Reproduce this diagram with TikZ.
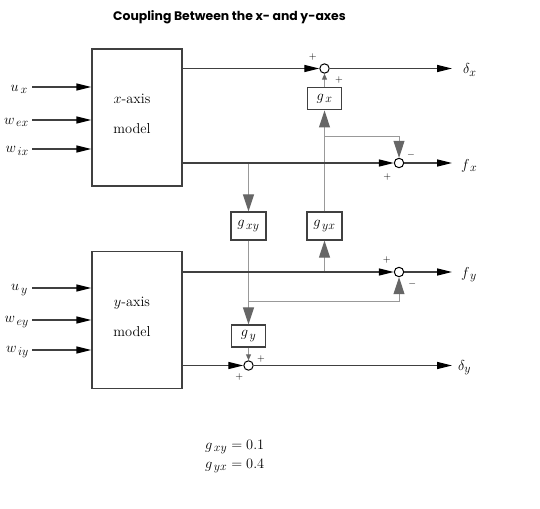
\documentclass[tikz,border=0pt]{standalone}
\usepackage{fontspec}
\newfontfamily\titlefont{Poppins}
\DeclareMathSizes{14.4}{14.4}{12}{10}
\usetikzlibrary{arrows.meta}
\definecolor{dk}{HTML}{404040}
\definecolor{lt}{HTML}{999999}
\definecolor{hd}{HTML}{666666}
\tikzset{
  blk/.style={draw=dk, line width=1.3pt, -{Triangle[length=15pt,width=7pt,color=black]}},
  gry/.style={draw=lt, line width=1pt, -{Triangle[length=17pt,width=11pt,color=hd]}},
  gsmall/.style={draw=lt, line width=1pt, -{Triangle[length=6pt,width=5pt,color=hd]}},
  modelbox/.style={draw=dk, line width=1.3pt, minimum width=90pt, minimum height=137pt, inner sep=0pt},
  gain/.style={draw=dk, line width=1.3pt, minimum width=34pt, minimum height=22pt, inner sep=0pt, font=\fontsize{14.4}{16}\selectfont},
  gainb/.style={gain, minimum width=35pt, minimum height=28pt},
  sumc/.style={circle, draw=black, line width=1pt, minimum size=9.4pt, inner sep=0pt},
  lbl/.style={font=\fontsize{14.4}{16}\selectfont, inner sep=0pt},
  sgn/.style={font=\fontsize{10}{11}\selectfont, inner sep=0pt},
  ttl/.style={font=\titlefont\bfseries\fontsize{12.4}{14}\selectfont, inner sep=0pt},
}
\begin{document}
\begin{tikzpicture}[x=1pt,y=-1pt]
\useasboundingbox (0,0) rectangle (540,508);
\node[ttl] (title) at (229.5,17) {Coupling Between the x- and y-axes};
% model blocks
\node[modelbox] (xbox) at (137,117.5) {};
\node[lbl] (xt1) at (132,99) {$x$-axis};
\node[lbl] (xt2) at (132,129) {model};
\node[modelbox] (ybox) at (137,320) {};
\node[lbl] (yt1) at (132,303) {$y$-axis};
\node[lbl] (yt2) at (132,332) {model};
% gains
\node[gain] (gx) at (324.5,98.8) {$g_{\,x}$};
\node[gainb] (gxy) at (248.5,226) {$g_{\,xy}$};
\node[gainb] (gyx) at (324.5,226) {$g_{\,yx}$};
\node[gain] (gy) at (248.5,336) {$g_{\,y}$};
% sums
\node[sumc] (S1) at (324.5,68.5) {};
\node[sumc] (S2) at (399,163) {};
\node[sumc] (S3) at (399,272) {};
\node[sumc] (S4) at (248.5,365.5) {};
% output coordinates
\coordinate (xo1) at (182,68.5);
\coordinate (xo2) at (182,163);
\coordinate (yo1) at (182,272);
\coordinate (yo2) at (182,365.5);
\coordinate (e1) at (452,68.5);
\coordinate (e2) at (452,163);
\coordinate (e3) at (452,272);
\coordinate (e4) at (452,365.5);
\coordinate (b1) at (248.5,301);
\coordinate (b2) at (324.5,136);
% gray coupling paths
\draw[gry] (gxy |- xo2) -- (gxy.north);
\draw[gry] (gxy.south) -- (gy.north);
\draw[gry] (b1) -| (S3);
\draw[gry] (gyx |- yo1) -- (gyx.south);
\draw[gry] (gyx.north) -- (gx.south);
\draw[gry] (b2) -| (S2);
\draw[gsmall] (gx) -- (S1);
\draw[gsmall] (gy) -- (S4);
% black signal paths
\draw[blk] (xo1) -- (S1);
\draw[blk] (S1) -- (e1);
\draw[blk] (xo2) -- (S2);
\draw[blk] (S2) -- (e2);
\draw[blk] (yo1) -- (S3);
\draw[blk] (S3) -- (e3);
\draw[blk] (yo2) -- (S4);
\draw[blk] (S4) -- (e4);
% output labels
\node[lbl,anchor=west] (Ldx) at (463,70) {$\delta_{x}$};
\node[lbl,anchor=west] (Lfx) at (461,166) {$f_{\,x}$};
\node[lbl,anchor=west] (Lfy) at (461,275) {$f_{\,y}$};
\node[lbl,anchor=west] (Ldy) at (458,368) {$\delta_{y}$};
% inputs
\coordinate (i1) at (32,87);
\coordinate (i2) at (32,120);
\coordinate (i3) at (32,149);
\coordinate (i4) at (32,288);
\coordinate (i5) at (32,320);
\coordinate (i6) at (32,350);
\draw[blk] (i1) -- (i1 -| xbox.west);
\draw[blk] (i2) -- (i2 -| xbox.west);
\draw[blk] (i3) -- (i3 -| xbox.west);
\draw[blk] (i4) -- (i4 -| ybox.west);
\draw[blk] (i5) -- (i5 -| ybox.west);
\draw[blk] (i6) -- (i6 -| ybox.west);
\node[lbl,anchor=east] (Lux) at (28,89) {$u_{\,x}$};
\node[lbl,anchor=east] (Lwex) at (29,122) {$w_{\,ex}$};
\node[lbl,anchor=east] (Lwix) at (29,151) {$w_{\,ix}$};
\node[lbl,anchor=east] (Luy) at (28,290) {$u_{\,y}$};
\node[lbl,anchor=east] (Lwey) at (29,322) {$w_{\,ey}$};
\node[lbl,anchor=east] (Lwiy) at (29,352) {$w_{\,iy}$};
% signs
\node[sgn] (p1) at (312.7,57) {$+$};
\node[sgn] (p2) at (339,80) {$+$};
\node[sgn] (m1) at (411,155) {$-$};
\node[sgn] (p3) at (387.3,176.7) {$+$};
\node[sgn] (p4) at (386.7,260) {$+$};
\node[sgn] (m2) at (412.3,284.3) {$-$};
\node[sgn] (p5) at (261,359) {$+$};
\node[sgn] (p6) at (239.3,376.7) {$+$};
% parameter values
\node[lbl,anchor=west] (v1) at (205,447) {$g_{\,xy} = 0.1$};
\node[lbl,anchor=west] (v2) at (205,466) {$g_{\,yx} = 0.4$};
\end{tikzpicture}
\end{document}
